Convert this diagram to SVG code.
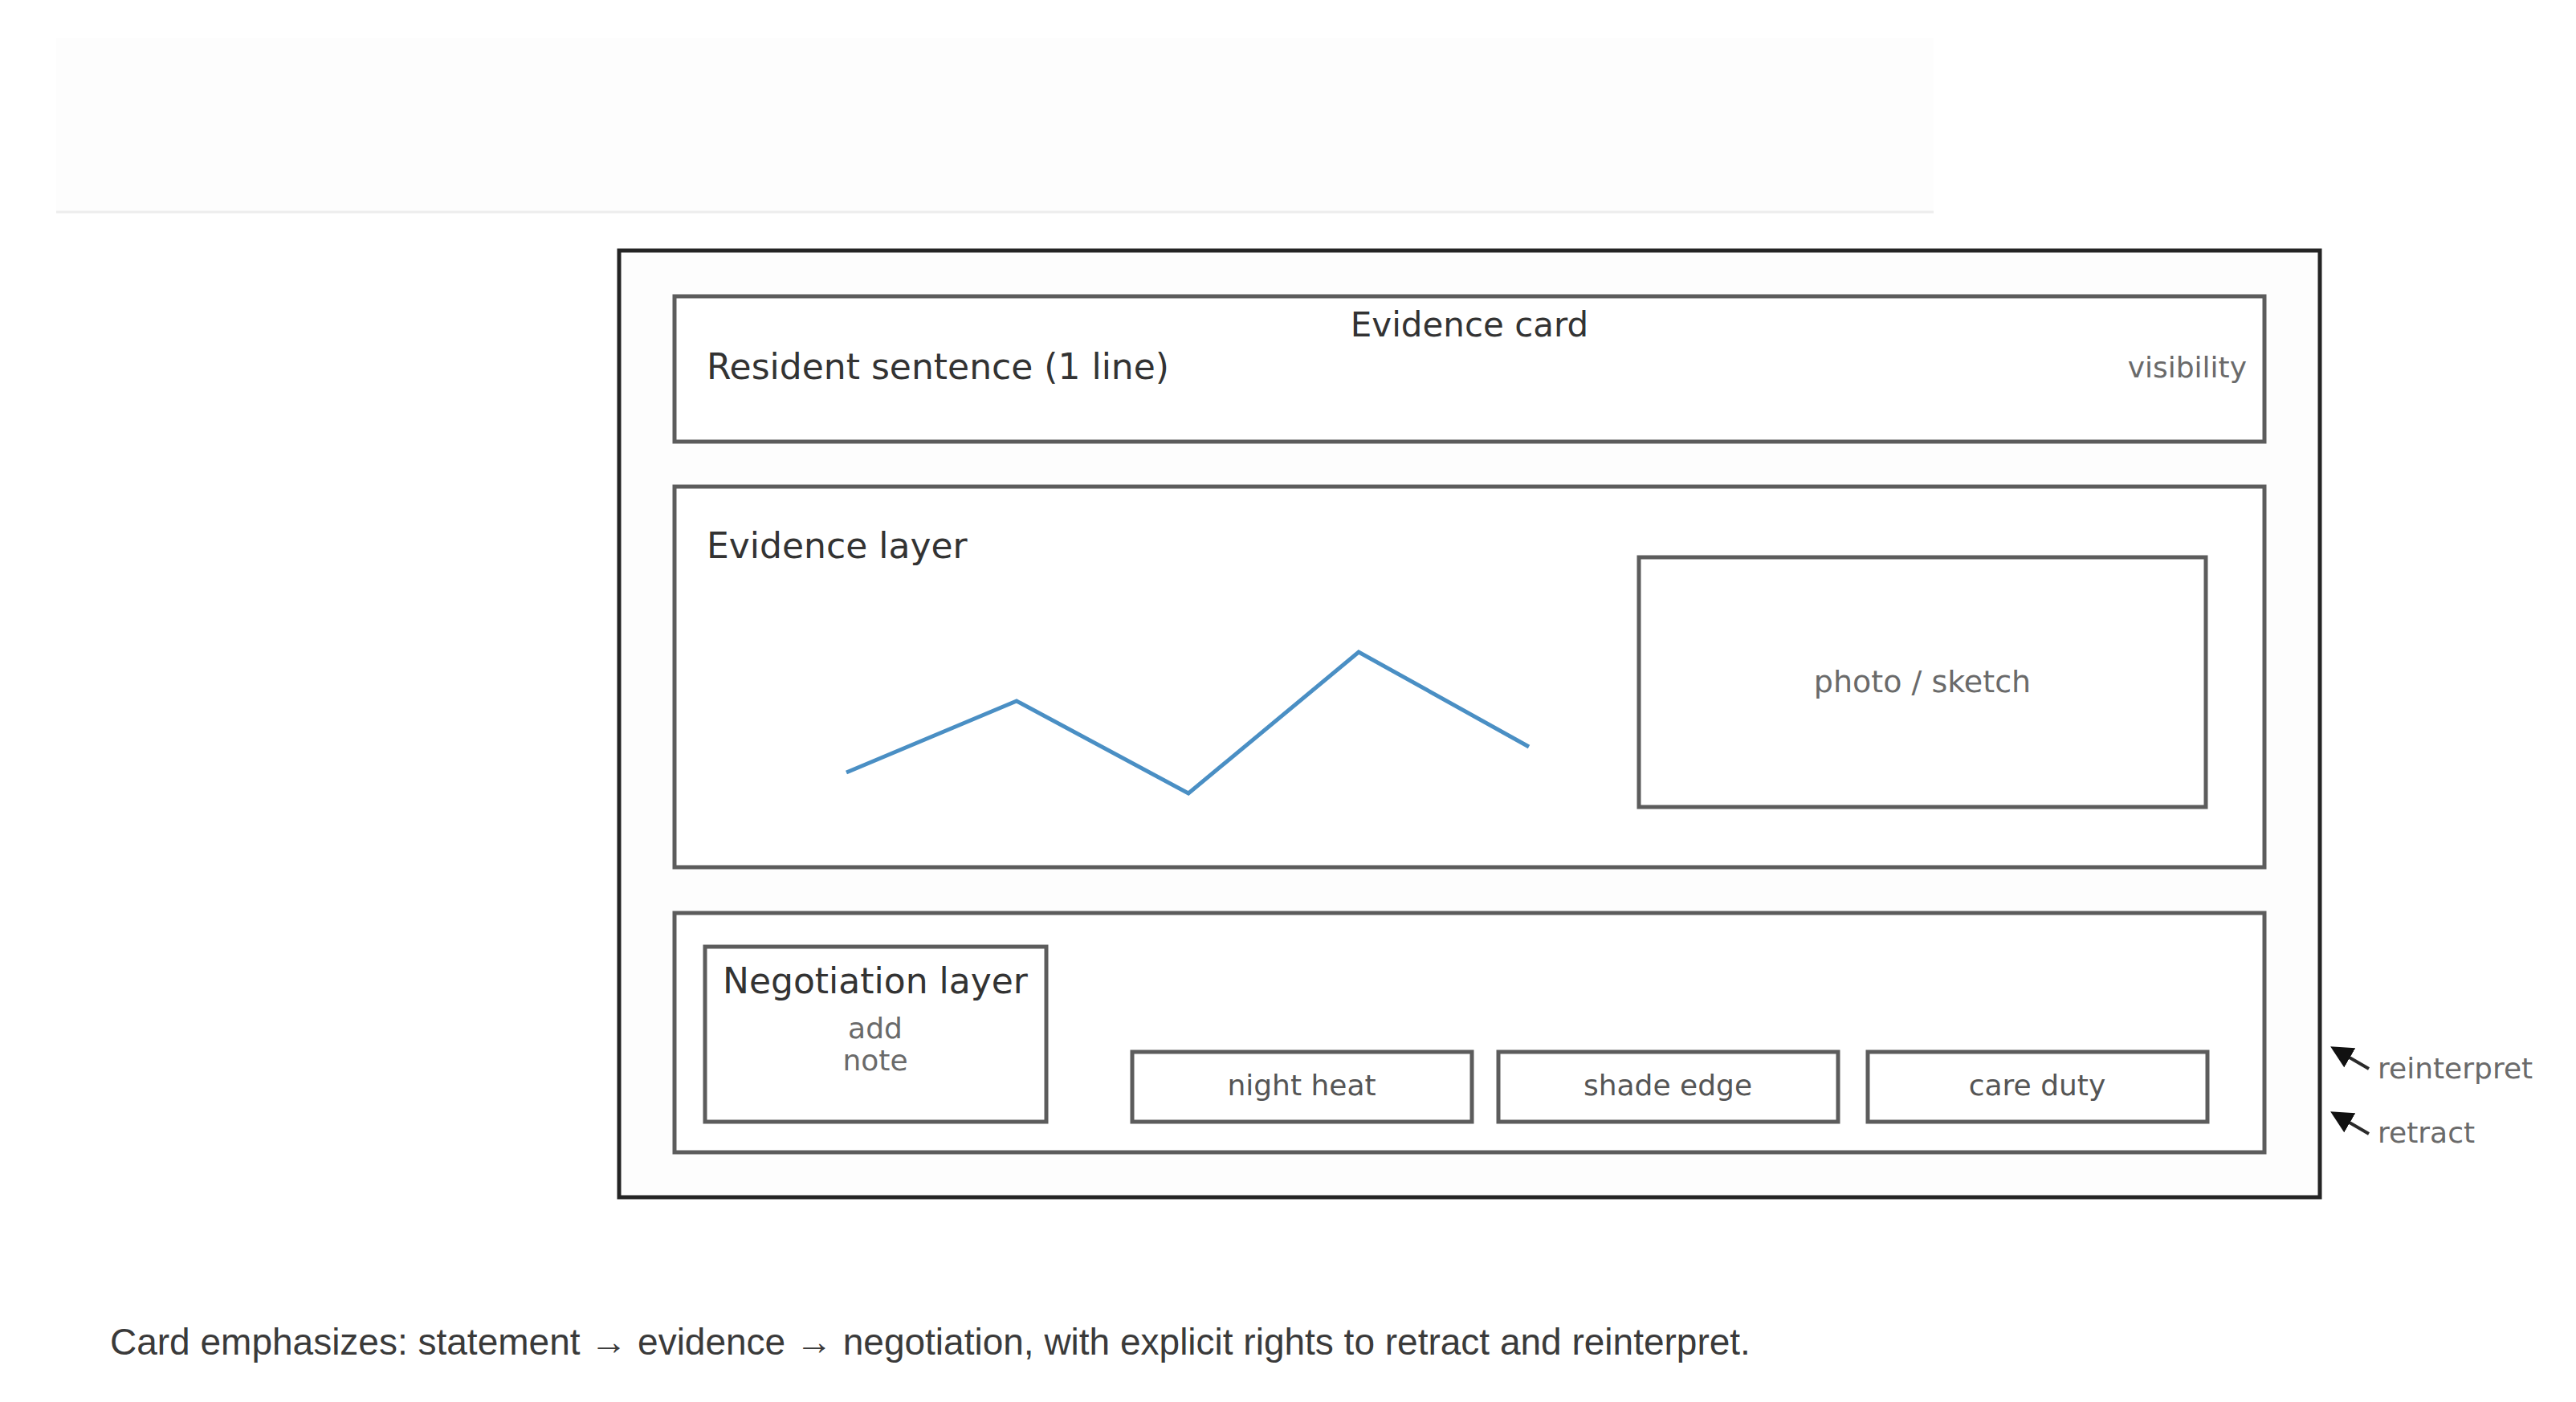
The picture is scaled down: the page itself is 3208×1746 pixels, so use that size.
<svg xmlns="http://www.w3.org/2000/svg" width="3208" height="1746" viewBox="0 0 3208 1746">
<style>
.box{fill:#ffffff;stroke:#5c5c5c;stroke-width:5}
.outer{fill:#fdfdfd;stroke:#242424;stroke-width:5}
.lbl{font-family:"DejaVu Sans",sans-serif;font-size:44px;fill:#333333}
.sm{font-family:"DejaVu Sans",sans-serif;font-size:36px;fill:#6a6a6a}
.tag{font-family:"DejaVu Sans",sans-serif;font-size:36px;fill:#555555}
.cap{font-family:"Liberation Sans",Arial,sans-serif;font-size:46px;fill:#3a3a3a}
.conn{stroke:#2a2a2a;stroke-width:4;fill:none}
</style>
<defs>
<marker id="ah" viewBox="0 0 10 10" refX="8" refY="5" markerWidth="7" markerHeight="7" markerUnits="strokeWidth" orient="auto">
<path d="M0,0 L10,5 L0,10 z" fill="#111111"/>
</marker>
</defs>
<rect width="3208" height="1746" fill="#ffffff"/>
<g id="header-strip">
<rect x="70" y="47" width="2338" height="217" fill="#fdfdfd"/>
<line x1="70" y1="264" x2="2408" y2="264" stroke="#ededed" stroke-width="3"/>
</g>
<g id="card">
<rect class="outer" x="771" y="312" width="2118" height="1179"/>
</g>
<g id="statement-band">
<rect class="box" x="840" y="369" width="1980" height="181"/>
<text class="lbl" x="1830" y="419" text-anchor="middle" style="font-size:42px">Evidence card</text>
<text class="lbl" x="880" y="472">Resident sentence (1 line)</text>
<text class="sm" x="2798" y="470" text-anchor="end">visibility</text>
</g>
<g id="evidence-layer">
<rect class="box" x="840" y="606" width="1980" height="474"/>
<text class="lbl" x="880" y="695">Evidence layer</text>
<polyline points="1054,962 1266,873 1480,988 1692,812 1904,930" fill="none" stroke="#4a8fc4" stroke-width="5" stroke-linejoin="miter"/>
</g>
<g id="photo-sketch">
<rect class="box" x="2041" y="694" width="706" height="311"/>
<text class="sm" x="2394" y="862" text-anchor="middle" style="font-size:38px">photo / sketch</text>
</g>
<g id="negotiation-band">
<rect class="box" x="840" y="1137" width="1980" height="298"/>
</g>
<g id="negotiation-layer">
<rect class="box" x="878" y="1179" width="425" height="218"/>
<text class="lbl" x="1090" y="1237" text-anchor="middle">Negotiation layer</text>
<text class="sm" x="1090" y="1293" text-anchor="middle">add</text>
<text class="sm" x="1090" y="1333" text-anchor="middle">note</text>
</g>
<g id="tag-night-heat">
<rect class="box" x="1410" y="1310" width="423" height="87"/>
<text class="tag" x="1621" y="1364" text-anchor="middle">night heat</text>
</g>
<g id="tag-shade-edge">
<rect class="box" x="1866" y="1310" width="423" height="87"/>
<text class="tag" x="2077" y="1364" text-anchor="middle">shade edge</text>
</g>
<g id="tag-care-duty">
<rect class="box" x="2326" y="1310" width="423" height="87"/>
<text class="tag" x="2537" y="1364" text-anchor="middle">care duty</text>
</g>
<g id="connectors">
<line class="conn" x1="2950" y1="1331" x2="2907" y2="1306" marker-end="url(#ah)"/>
<line class="conn" x1="2950" y1="1412" x2="2907" y2="1387" marker-end="url(#ah)"/>
</g>
<g id="rights-labels">
<text class="sm" x="2961" y="1343">reinterpret</text>
<text class="sm" x="2961" y="1423">retract</text>
</g>
<g id="caption">
<text class="cap" x="137" y="1687">Card emphasizes: statement → evidence → negotiation, with explicit rights to retract and reinterpret.</text>
</g>
</svg>
